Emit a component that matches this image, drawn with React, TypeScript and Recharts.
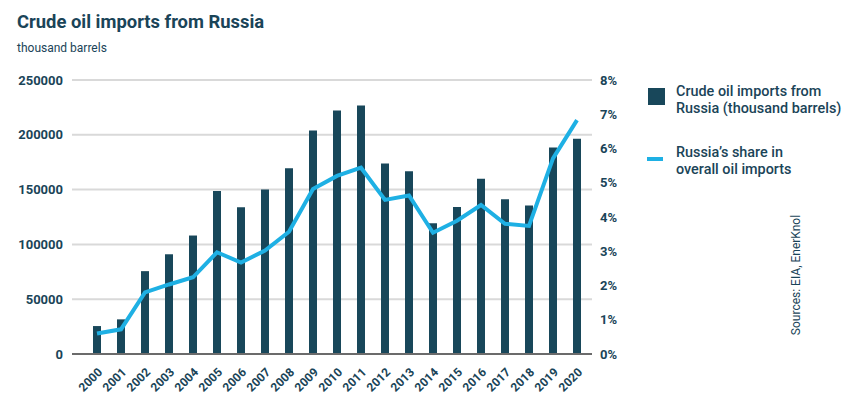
import React from 'react';
import { ComposedChart, Bar, Line, XAxis, YAxis, CartesianGrid } from 'recharts';

const years = ['2000', '2001', '2002', '2003', '2004', '2005', '2006', '2007', '2008', '2009', '2010', '2011', '2012', '2013', '2014', '2015', '2016', '2017', '2018', '2019', '2020'];
const importsFromRussia = [25500, 31600, 75600, 91000, 108100, 148700, 133900, 150000, 169400, 204000, 222200, 226800, 173700, 166700, 119300, 134200, 160000, 141200, 135400, 188500, 196400];
const russiaShare = [0.6, 0.72, 1.8, 2.03, 2.24, 2.97, 2.67, 3.02, 3.57, 4.82, 5.2, 5.44, 4.5, 4.63, 3.54, 3.89, 4.35, 3.8, 3.74, 5.71, 6.83];
const leftTicks = [0, 50000, 100000, 150000, 200000, 250000];
const rightTicks = [0, 1, 2, 3, 4, 5, 6, 7, 8];

const title = 'Crude oil imports from Russia';
const subtitle = 'thousand barrels';
const legendBar = ['Crude oil imports from', 'Russia (thousand barrels)'];
const legendLine = ['Russia\u2019s share in', 'overall oil imports'];
const source = 'Sources: EIA, EnerKnol';

const data = years.map((year, i) => ({ year, imports: importsFromRussia[i], share: russiaShare[i] }));

const TEXT = '#1a4458';
const BAR = '#18475a';
const LINE = '#1eb0e4';
const FONT = 'Roboto, sans-serif';

const XTick = (props: any) => {
  const { x, y, payload } = props;
  return (
    <text
      x={0}
      y={0}
      transform={`translate(${x + 6},${y + 19}) rotate(-45)`}
      textAnchor="end"
      fill={TEXT}
      fontFamily={FONT}
      fontWeight={700}
      fontSize={12}
    >
      {payload.value}
    </text>
  );
};

export default function App() {
  return (
    <div style={{ position: 'absolute', left: 0, top: 0, width: 855, height: 404, background: '#fff' }}>
      <ComposedChart
        width={855}
        height={404}
        data={data}
        margin={{ top: 80, right: 223, bottom: 5, left: 0 }}
      >
        <CartesianGrid yAxisId="left" vertical={false} stroke="#d9d9d9" strokeWidth={2} />
        <XAxis
          dataKey="year"
          interval={0}
          padding={{ left: 13, right: 3 }}
          height={45}
          tickLine={false}
          tickSize={0}
          tickMargin={0}
          axisLine={{ stroke: '#6b6b6b', strokeWidth: 2 }}
          tick={<XTick />}
        />
        <YAxis
          yAxisId="left"
          orientation="left"
          width={72}
          domain={[0, 250000]}
          ticks={leftTicks}
          axisLine={false}
          tickLine={false}
          tickSize={0}
          tickMargin={9}
          tick={{ fill: TEXT, fontFamily: FONT, fontWeight: 700, fontSize: 13 }}
        />
        <YAxis
          yAxisId="right"
          orientation="right"
          width={40}
          domain={[0, 8]}
          ticks={rightTicks}
          tickFormatter={(v: number) => `${v}%`}
          axisLine={false}
          tickLine={false}
          tickSize={0}
          tickMargin={8}
          tick={{ fill: TEXT, fontFamily: FONT, fontWeight: 700, fontSize: 13, textAnchor: 'start' }}
        />
        <Bar yAxisId="left" dataKey="imports" fill={BAR} barSize={8} isAnimationActive={false} />
        <Line
          yAxisId="right"
          dataKey="share"
          type="linear"
          stroke={LINE}
          strokeWidth={4}
          dot={false}
          activeDot={false}
          isAnimationActive={false}
        />
      </ComposedChart>
      <svg
        width={855}
        height={404}
        style={{ position: 'absolute', left: 0, top: 0, pointerEvents: 'none' }}
      >
        <text x={17} y={28} fill={TEXT} fontFamily={FONT} fontWeight={700} fontSize={18.4}>{title}</text>
        <text x={17} y={52} fill={TEXT} fontFamily={FONT} fontWeight={400} fontSize={12}>{subtitle}</text>
        <rect x={648} y={88} width={17} height={17} fill={BAR} />
        <text x={676} y={96} fill={TEXT} fontFamily={FONT} fontWeight={500} fontSize={14.4}>{legendBar[0]}</text>
        <text x={676} y={113} fill={TEXT} fontFamily={FONT} fontWeight={500} fontSize={14.4}>{legendBar[1]}</text>
        <rect x={647} y={157} width={16} height={4} fill={LINE} />
        <text x={676} y={157} fill={TEXT} fontFamily={FONT} fontWeight={500} fontSize={14.4}>{legendLine[0]}</text>
        <text x={676} y={174} fill={TEXT} fontFamily={FONT} fontWeight={500} fontSize={14.4}>{legendLine[1]}</text>
        <text
          x={0}
          y={0}
          transform="translate(800,275) rotate(-90)"
          textAnchor="middle"
          fill={TEXT}
          fontFamily={FONT}
          fontWeight={400}
          fontSize={12}
        >
          {source}
        </text>
      </svg>
    </div>
  );
}
